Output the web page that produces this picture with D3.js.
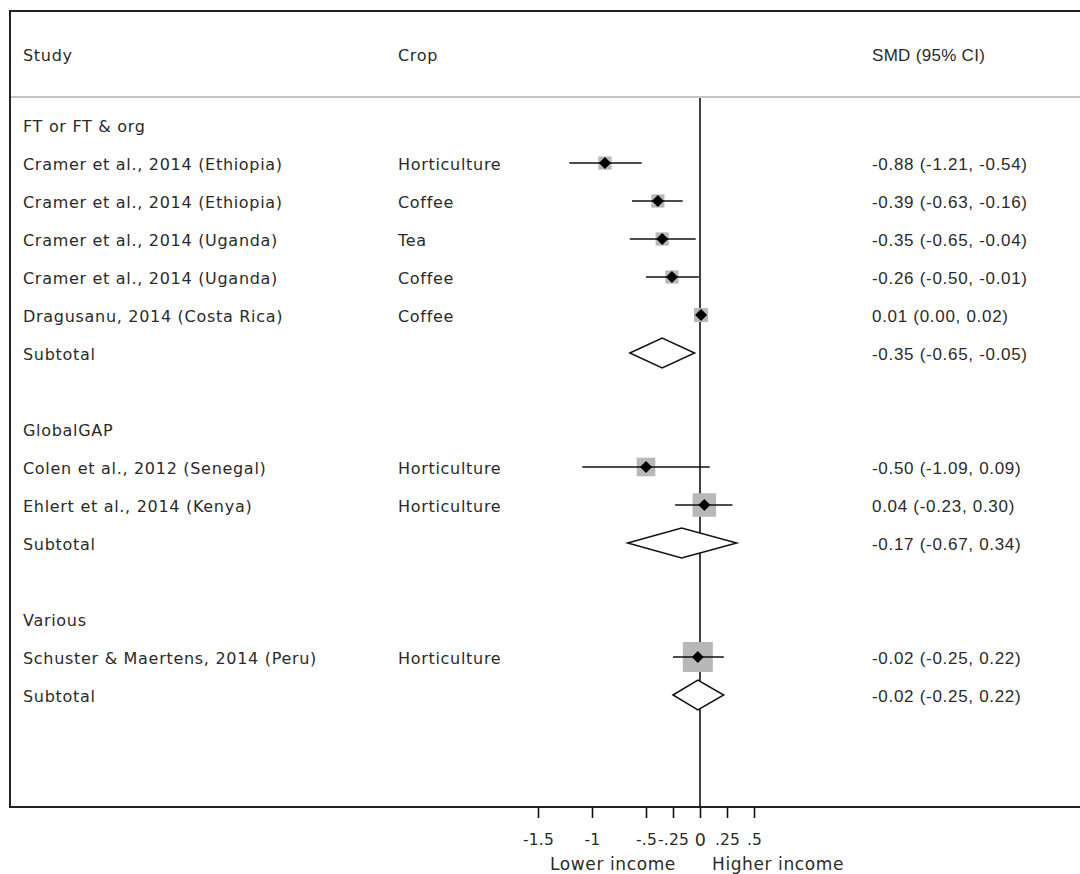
<!DOCTYPE html>
<html>
<head>
<meta charset="utf-8">
<script src="https://cdn.jsdelivr.net/npm/d3@7"></script>
<style>
	html, body { margin: 0; padding: 0; background: #fff; }
	svg text { fill: #2a2a2a; }
</style>
</head>
<body>
<svg id="chart" width="1080" height="874"></svg>
<script>
// forest plot data (SMD, 95% CI, weight in %)
const groupNames = ["FT or FT & org", "GlobalGAP", "Various"];
const studyNames = [
	"Cramer et al., 2014 (Ethiopia)",
	"Cramer et al., 2014 (Ethiopia)",
	"Cramer et al., 2014 (Uganda)",
	"Cramer et al., 2014 (Uganda)",
	"Dragusanu, 2014 (Costa Rica)",
	"Colen et al., 2012 (Senegal)",
	"Ehlert et al., 2014 (Kenya)",
	"Schuster & Maertens, 2014 (Peru)"
];
const studyCrops = ["Horticulture", "Coffee", "Tea", "Coffee", "Coffee", "Horticulture", "Horticulture", "Horticulture"];
const studyGroup = [0, 0, 0, 0, 0, 1, 1, 2];
const studySmd = [-0.88, -0.39, -0.35, -0.26, 0.01, -0.50, 0.04, -0.02];
const studyLow = [-1.21, -0.63, -0.65, -0.50, 0.00, -1.09, -0.23, -0.25];
const studyHigh = [-0.54, -0.16, -0.04, -0.01, 0.02, 0.09, 0.30, 0.22];
const studyWeight = [19.5, 19.5, 19.5, 19.5, 22, 38.5, 61.5, 100];
const subtotalSmd = [-0.35, -0.17, -0.02];
const subtotalLow = [-0.65, -0.67, -0.25];
const subtotalHigh = [-0.05, 0.34, 0.22];
const tickValues = [-1.5, -1, -0.5, -0.25, 0, 0.25, 0.5];
const tickLabels = ["-1.5", "-1", "-.5", "-.25", "0", ".25", ".5"];

// plain hyphen minus, like the original table
const fmt = v => v.toFixed(2);
const ciText = (m, l, h) => fmt(m) + " (" + fmt(l) + ", " + fmt(h) + ")";

// build the row list: group label, studies, subtotal, blank
var rows = [];
groupNames.forEach((g, gi) => {
	rows.push({ type: "group", label: g });
	studyNames.forEach((s, i) => {
		if (studyGroup[i] == gi) {
			rows.push({ type: "study", label: s, crop: studyCrops[i], m: studySmd[i], l: studyLow[i], h: studyHigh[i], w: studyWeight[i] });
		}
	});
	rows.push({ type: "sub", label: "Subtotal", m: subtotalSmd[gi], l: subtotalLow[gi], h: subtotalHigh[gi] });
	if (gi < groupNames.length - 1) rows.push({ type: "blank" });
});

const svg = d3.select("#chart");
const box = { left: 10, top: 11, bottom: 807 };
const sepY = 97;
const leftFont = "'DejaVu Sans', sans-serif";
const numFont = "'Liberation Sans', Arial, sans-serif";

const x = d3.scaleLinear().domain([-1.5, 0.5]).range([538, 754]);
const y = d3.scaleLinear().domain([0, rows.length - 1]).range([125, 695]);
const boxSize = d3.scaleSqrt().domain([0, 100]).range([0, 30]);

// text style helper
function leftText(sel, size) {
	return sel.attr("font-family", leftFont).attr("font-size", size || 16).attr("letter-spacing", "0.7px");
}

// frame
svg.append("path")
	.attr("d", `M1090,${box.top}H${box.left}V${box.bottom}H1090`)
	.attr("fill", "none").attr("stroke", "#222").attr("stroke-width", 2);
svg.append("line")
	.attr("x1", box.left + 1).attr("x2", 1080).attr("y1", sepY).attr("y2", sepY)
	.attr("stroke", "#c4c4c4").attr("stroke-width", 2);

// headers
leftText(svg.append("text").attr("x", 23).attr("y", 55).attr("dy", "0.35em")).text("Study");
leftText(svg.append("text").attr("x", 398).attr("y", 55).attr("dy", "0.35em")).text("Crop");
svg.append("text").attr("x", 872).attr("y", 55).attr("dy", "0.35em")
	.attr("font-family", numFont).attr("font-size", 17).attr("letter-spacing", "0.3px").text("SMD (95% CI)");

// text columns
const rowG = svg.append("g").selectAll("g").data(rows.filter(r => r.type != "blank")).enter().append("g")
	.attr("transform", d => `translate(0, ${y(rows.indexOf(d)) + 1})`);
leftText(rowG.append("text").attr("x", 23).attr("dy", "0.35em")).text(d => d.label);
leftText(rowG.filter(d => d.crop).append("text").attr("x", 398).attr("dy", "0.35em")).text(d => d.crop);
rowG.filter(d => d.m !== undefined).append("text").attr("x", 872).attr("dy", "0.35em")
	.attr("font-family", numFont).attr("font-size", 17).attr("letter-spacing", "0.7px")
	.text(d => ciText(d.m, d.l, d.h));

// zero line
svg.append("line")
	.attr("x1", x(0)).attr("x2", x(0)).attr("y1", sepY + 1).attr("y2", box.bottom)
	.attr("stroke", "#111").attr("stroke-width", 1.6);

// studies
const studyRows = rows.filter(r => r.type == "study");
const st = svg.append("g").selectAll("g").data(studyRows).enter().append("g")
	.attr("transform", d => `translate(0, ${y(rows.indexOf(d))})`);
st.append("rect")
	.attr("x", d => x(d.m) - boxSize(d.w) / 2).attr("y", d => -boxSize(d.w) / 2)
	.attr("width", d => boxSize(d.w)).attr("height", d => boxSize(d.w))
	.attr("fill", "#b8b8b8");
st.append("line")
	.attr("x1", d => x(d.l)).attr("x2", d => x(d.h))
	.attr("stroke", "#111").attr("stroke-width", 1.5);
st.append("path")
	.attr("d", d => { const c = x(d.m), r = 6; return `M${c - r},0L${c},${-r}L${c + r},0L${c},${r}Z`; })
	.attr("fill", "#000");

// subtotal diamonds
const subRows = rows.filter(r => r.type == "sub");
svg.append("g").selectAll("path").data(subRows).enter().append("path")
	.attr("d", d => {
		const cy = y(rows.indexOf(d)), hh = 15;
		return `M${x(d.l)},${cy}L${x(d.m)},${cy - hh}L${x(d.h)},${cy}L${x(d.m)},${cy + hh}Z`;
	})
	.attr("fill", "#fff").attr("stroke", "#111").attr("stroke-width", 1.5);

// x axis
const axis = svg.append("g")
	.attr("transform", `translate(0, ${box.bottom})`)
	.call(d3.axisBottom(x).tickValues(tickValues).tickFormat((d, i) => tickLabels[i]).tickSize(11).tickPadding(16));
axis.select(".domain").remove();
axis.selectAll("line").attr("stroke", "#111").attr("stroke-width", 1.6);
leftText(axis.selectAll("text"), 15.5).attr("letter-spacing", "0.2px").attr("fill", "#2a2a2a");
axis.selectAll("text").filter(d => d == 0).attr("font-size", 17.5);

leftText(svg.append("text").attr("x", 613).attr("y", 864).attr("dy", "0.35em").attr("text-anchor", "middle"), 17)
	.attr("letter-spacing", "0.6px").text("Lower income");
leftText(svg.append("text").attr("x", 712).attr("y", 864).attr("dy", "0.35em"), 17)
	.attr("letter-spacing", "0.6px").text("Higher income");
</script>
</body>
</html>
